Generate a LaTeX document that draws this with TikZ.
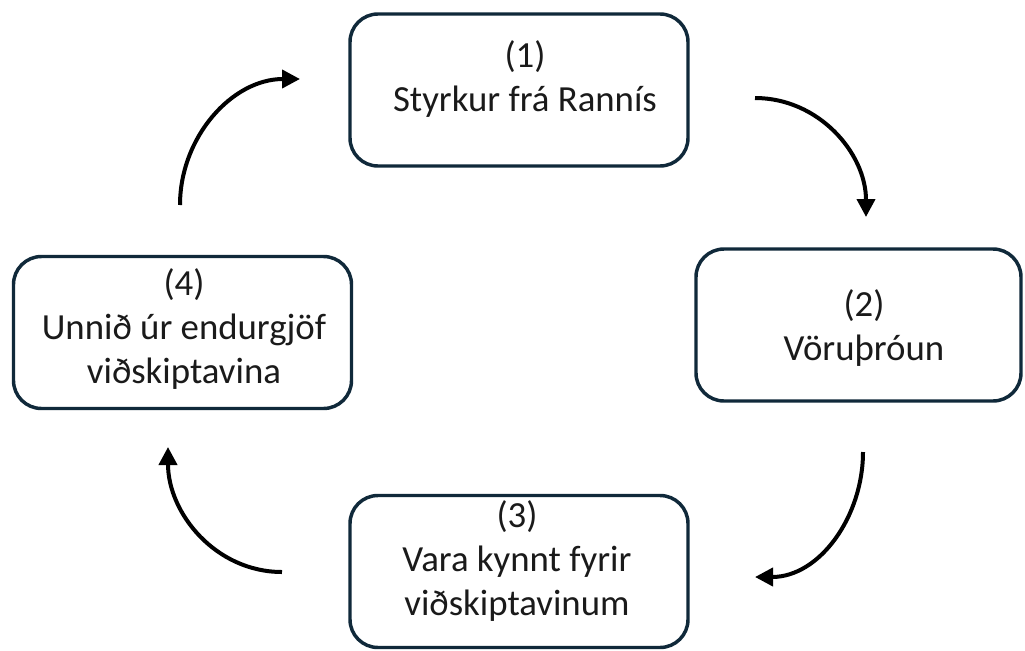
\documentclass[tikz,border=0pt]{standalone}
\usepackage{fontspec}
\setmainfont{Carlito}
\usepackage{xcolor}
\usepackage{tikz}
\usetikzlibrary{shapes,arrows.meta,positioning,calc}
\definecolor{stageline}{HTML}{10293A}
\definecolor{stagefont}{HTML}{1A1A1A}

\begin{document}
\begin{tikzpicture}[
    x=0.75pt, y=-0.75pt,
    stage/.style={rectangle, rounded corners=21pt, draw=stageline, line width=2.6pt, fill=white, minimum width=253.5pt, minimum height=114pt},
    stagetext/.style={align=center, text=stagefont, font=\fontsize{27.6}{33}\selectfont},
    cycarrow/.style={-{Triangle[length=13.5pt,width=13.5pt]}, line width=3pt, black}
]
    \useasboundingbox (0,0) rectangle (1025,650);

    % boxes of the cycle
    \node[stage] (s1) at (519,90) {};
    \node[stage, minimum width=243.75pt] (s2) at (858.5,325) {};
    \node[stage] (s3) at (519,571.5) {};
    \node[stage] (s4) at (182.5,332.5) {};

    \node[stagetext] (t1) at (525,79) {(1)\\Styrkur frá Rannís};
    \node[stagetext] (t2) at (864,328) {(2)\\Vöruþróun};
    \node[stagetext] (t3) at (517,561) {(3)\\Vara kynnt fyrir\\viðskiptavinum};
    \node[stagetext] (t4) at (184,329) {(4)\\Unnið úr endurgjöf\\viðskiptavina};

    % arrow ends
    \coordinate (a1s) at (755,98);
    \coordinate (a1e) at (866,217);
    \coordinate (a2s) at (863,452);
    \coordinate (a2e) at (755,577);
    \coordinate (a3s) at (282,572);
    \coordinate (a3e) at (168,447);
    \coordinate (a4s) at (180,205);
    \coordinate (a4e) at (300,79);

    \draw[cycarrow] (a1s) to[out=0, in=90] (a1e);
    \draw[cycarrow] (a2s) to[out=-90, in=0] (a2e);
    \draw[cycarrow] (a3s) to[out=180, in=-90] (a3e);
    \draw[cycarrow] (a4s) to[out=90, in=180] (a4e);
\end{tikzpicture}
\end{document}
